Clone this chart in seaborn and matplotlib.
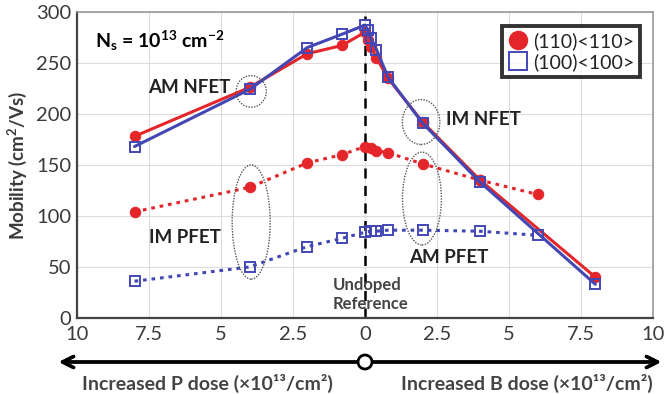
import matplotlib
matplotlib.use("Agg")
import matplotlib.pyplot as plt
import seaborn as sns
import numpy as np
import pandas as pd
from matplotlib.patches import Ellipse
from matplotlib.lines import Line2D

# Dose axis: negative = P dose, positive = B dose (x10^13 /cm^2)
nfet_dose = [-8, -4, -2, -0.8, 0, 0.1, 0.2, 0.4, 0.8, 2, 4, 8]
nfet_110 = [178, 226, 259, 267, 280, 272, 266, 255, 235, 192, 135, 40]
nfet_100 = [168, 224, 265, 278, 287, 282, 274, 263, 236, 191, 133, 33]

pfet_dose = [-8, -4, -2, -0.8, 0, 0.2, 0.4, 0.8, 2, 4, 6]
pfet_110 = [104, 128, 152, 160, 168, 167, 164, 162, 151, 135, 121]
pfet_100 = [36, 50, 70, 78, 84, 85, 85, 86, 86, 85, 81]

x_ticks = [-10, -7.5, -5, -2.5, 0, 2.5, 5, 7.5, 10]
x_tick_labels = ["10", "7.5", "5", "2.5", "0", "2.5", "5", "7.5", "10"]
y_ticks = [0, 50, 100, 150, 200, 250, 300]

legend_labels = ["(110)<110>", "(100)<100>"]

RED = "#e4262b"
BLUE = "#4347b4"
TXT = "#3a3a3a"

sns.set_theme(style="white")
plt.rcParams["font.family"] = ["Lato", "DejaVu Sans"]
plt.rcParams["mathtext.fontset"] = "custom"
plt.rcParams["mathtext.rm"] = "Lato"
plt.rcParams["mathtext.bf"] = "Lato:bold"

fig = plt.figure(figsize=(6.69, 3.94), dpi=100)
ax = fig.add_axes([0.115, 0.193, 0.861, 0.777])

nfet = pd.DataFrame({"dose": nfet_dose, "a": nfet_110, "b": nfet_100})
pfet = pd.DataFrame({"dose": pfet_dose, "a": pfet_110, "b": pfet_100})

# NFET curves (solid)
sns.lineplot(data=nfet, x="dose", y="a", ax=ax, color=RED, lw=2.2,
             marker="o", markersize=7.5, markeredgecolor=RED, zorder=3)
sns.lineplot(data=nfet, x="dose", y="b", ax=ax, color=BLUE, lw=2.2,
             marker="s", markersize=7, markerfacecolor="none",
             markeredgecolor=BLUE, markeredgewidth=1.4, zorder=4)
# PFET curves (dotted)
sns.lineplot(data=pfet, x="dose", y="a", ax=ax, color=RED, lw=2.2,
             linestyle=(0, (1.2, 1.6)), marker="o", markersize=7.5,
             markeredgecolor=RED, zorder=3)
sns.lineplot(data=pfet, x="dose", y="b", ax=ax, color=BLUE, lw=2.2,
             linestyle=(0, (1.2, 1.6)), marker="s", markersize=7,
             markerfacecolor="none", markeredgecolor=BLUE,
             markeredgewidth=1.4, zorder=4)

ax.set_xlim(-10, 10)
ax.set_ylim(0, 300)
ax.set_xticks(x_ticks)
ax.set_xticklabels(x_tick_labels)
ax.set_yticks(y_ticks)
ax.tick_params(axis="both", labelsize=14.5, colors=TXT, length=0)
ax.tick_params(axis="x", pad=6)
ax.tick_params(axis="y", pad=4)
ax.grid(True, color="#dcdcdc", lw=0.8)
ax.set_axisbelow(True)
ax.set_xlabel("")
ax.set_ylabel("Mobility (cm$^\\mathbf{2}$/Vs)", fontsize=13.5,
              fontweight="bold", color=TXT, labelpad=5)
for side in ("left", "bottom"):
    ax.spines[side].set_color("#444444")
    ax.spines[side].set_linewidth(1.6)
for side in ("top", "right"):
    ax.spines[side].set_color("#999999")
    ax.spines[side].set_linewidth(1.2)

# undoped reference line
ax.plot([0, 0], [0, 296], color="black", lw=1.8, ls=(0, (4, 3)), zorder=2)
ax.text(-1.12, 23, "Undoped\nReference", ha="left", va="center",
        fontsize=12, fontweight="bold", color="#444444", linespacing=1.2,
        zorder=5)

ax.text(-9.38, 272, r"$\mathbf{N_s}$ = 10$^{\mathbf{13}}$ cm$^{\mathbf{-2}}$",
        fontsize=14, fontweight="bold", color="black", va="center")

# grouped annotations
ell_kw = dict(fill=False, ec="#555555", lw=1.0, ls=(0, (1, 1)), zorder=6)
lab_kw = dict(fontsize=13.5, fontweight="bold", color="#222222",
              ha="center", va="center")
ax.add_patch(Ellipse((-3.95, 222), 1.05, 31, **ell_kw))
ax.text(-6.1, 226, "AM NFET", **lab_kw)
ax.add_patch(Ellipse((1.95, 192), 1.3, 44, **ell_kw))
ax.text(4.1, 194, "IM NFET", **lab_kw)
ax.add_patch(Ellipse((-3.95, 94), 1.32, 112, **ell_kw))
ax.text(-6.25, 79, "IM PFET", **lab_kw)
ax.add_patch(Ellipse((1.98, 117), 1.35, 91, **ell_kw))
ax.text(2.9, 59, "AM PFET", **lab_kw)

handles = [
    Line2D([], [], ls="none", marker="o", markersize=13, color=RED),
    Line2D([], [], ls="none", marker="s", markersize=13,
           markerfacecolor="none", markeredgecolor=BLUE, markeredgewidth=1.4),
]
leg = ax.legend(handles, legend_labels, loc="upper right", fontsize=14,
                frameon=True, fancybox=False, handlelength=1.0,
                handletextpad=0.3, borderpad=0.3, labelspacing=0.15,
                bbox_to_anchor=(0.995, 0.985))
leg.get_frame().set_edgecolor("black")
leg.get_frame().set_linewidth(2.8)
for t in leg.get_texts():
    t.set_color("#222222")

# dose direction arrows below the axis
y_arr = 1 - 362 / 394
for x_end in (56 / 669, 664 / 669):
    fig.add_artist(plt.annotate("", xy=(x_end, y_arr), xytext=(365 / 669, y_arr),
                                xycoords="figure fraction",
                                arrowprops=dict(arrowstyle="->", lw=2.4,
                                                color="black",
                                                mutation_scale=20)))
fig.patches.append(Ellipse((365 / 669, y_arr), 14 / 669, 14 / 394,
                           transform=fig.transFigure, fc="white", ec="black",
                           lw=2, zorder=10))

y_lab = 1 - 383 / 394
fig.text(207 / 669, y_lab, "Increased P dose (×10¹³/cm²)", ha="center",
         va="center", fontsize=14, fontweight="bold", color="#444444")
fig.text(527 / 669, y_lab, "Increased B dose (×10¹³/cm²)", ha="center",
         va="center", fontsize=14, fontweight="bold", color="#444444")

fig.savefig("out.png", dpi=100)
